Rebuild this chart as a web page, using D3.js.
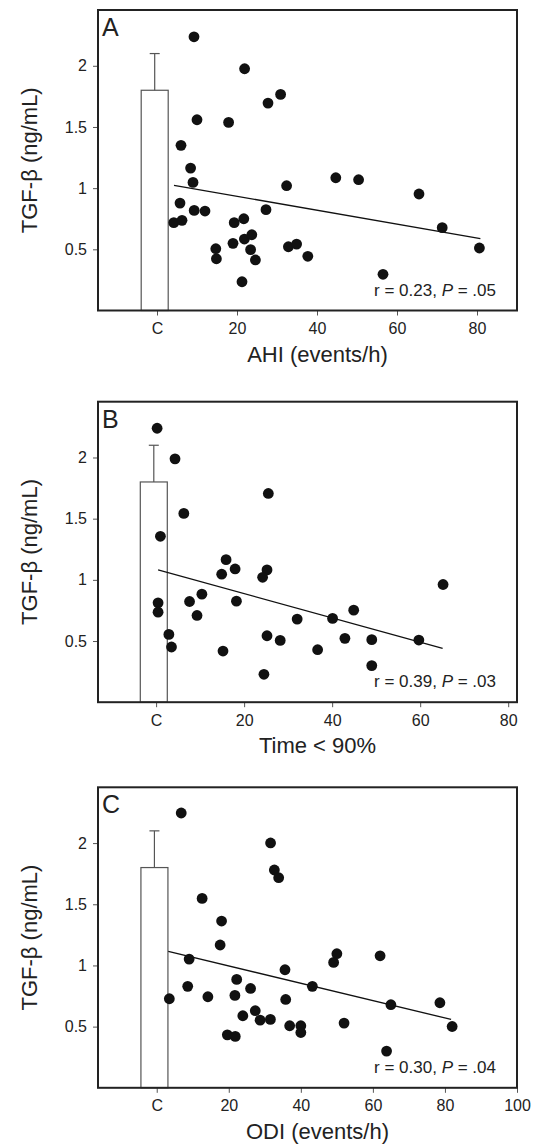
<!DOCTYPE html>
<html>
  <head>
    <script src="https://d3js.org/d3.v7.min.js"></script>
    <style>
      body { margin: 0; background: #fff; }
      text { font-family: "Liberation Sans", Arial, sans-serif; fill: #222; }
      .tick line { stroke: #555; }
      .tick text { font-size: 16px; }
      .domain { display: none; }
    </style>
  </head>
  <body>
    <script>
      // Panel data
      var panelLetters = ["A", "B", "C"];
      var xTitles = ["AHI (events/h)", "Time < 90%", "ODI (events/h)"];
      var yTitle = "TGF-β (ng/mL)";
      var yTicks = [0.5, 1, 1.5, 2];
      var xTicksA = [0, 20, 40, 60, 80];
      var xTicksB = [0, 20, 40, 60, 80];
      var xTicksC = [0, 20, 40, 60, 80, 100];
      var xDomains = [[-14.75, 90], [-13.2, 82], [-16.3, 100]];

      // control group bar: mean and mean + error
      var controlMean = [1.8, 1.8, 1.8];
      var controlErr = [2.1, 2.1, 2.1];

      var rValues = ["0.23", "0.39", "0.30"];
      var pValues = [".05", ".03", ".04"];

      var xA = [9.25, 21.9, 27.75, 30.9, 10.0, 17.9, 6.0, 8.4, 9.0, 32.4, 44.7, 50.4, 65.5, 71.3, 80.6, 56.5,
                5.75, 9.3, 12.0, 4.2, 6.25, 19.3, 21.7, 27.25, 14.7, 14.85, 19.0, 21.85, 23.7, 23.4, 24.6, 21.25,
                32.85, 34.9, 37.7];
      var yA = [2.237, 1.976, 1.695, 1.766, 1.559, 1.537, 1.350, 1.164, 1.047, 1.020, 1.085, 1.069, 0.952, 0.677, 0.511, 0.296,
                0.878, 0.818, 0.813, 0.718, 0.737, 0.718, 0.750, 0.824, 0.505, 0.423, 0.549, 0.584, 0.619, 0.497, 0.413, 0.235,
                0.521, 0.543, 0.443];

      var xB = [0.23, 4.3, 25.5, 6.3, 0.98, 15.9, 17.95, 14.9, 25.2, 24.2, 65.2, 0.45, 0.45, 7.6, 10.4, 9.3,
                18.25, 2.9, 3.5, 15.2, 24.5, 25.2, 28.2, 32.05, 36.7, 40.1, 44.9, 42.9, 49.0, 49.0, 59.7];
      var yB = [2.239, 1.989, 1.706, 1.543, 1.356, 1.165, 1.089, 1.046, 1.081, 1.021, 0.962, 0.812, 0.736, 0.823, 0.883, 0.709,
                0.826, 0.554, 0.451, 0.418, 0.228, 0.543, 0.505, 0.679, 0.429, 0.685, 0.752, 0.522, 0.511, 0.299, 0.508];

      var xC = [6.8, 31.6, 32.65, 33.85, 12.6, 18.0, 17.6, 9.0, 50.0, 49.1, 62.0, 35.6, 22.2, 8.6, 26.05, 43.2,
                3.5, 14.2, 21.7, 35.8, 65.0, 78.6, 82.0, 27.35, 23.9, 28.7, 31.55, 36.9, 40.0, 40.0, 52.0, 19.6,
                21.8, 63.8];
      var yC = [2.246, 2.001, 1.780, 1.717, 1.548, 1.363, 1.167, 1.052, 1.096, 1.025, 1.079, 0.965, 0.886, 0.829, 0.812, 0.829,
                0.728, 0.744, 0.755, 0.722, 0.679, 0.695, 0.501, 0.630, 0.589, 0.553, 0.559, 0.507, 0.507, 0.452, 0.529, 0.433,
                0.420, 0.300];

      // regression line end points [x0, y0, x1, y1]
      var fitA = [4.25, 1.023, 80.85, 0.587];
      var fitB = [0.45, 1.081, 65.1, 0.440];
      var fitC = [3.2, 1.115, 81.7, 0.559];

      var panels = [
        { xs: xA, ys: yA, fit: fitA, ticks: xTicksA },
        { xs: xB, ys: yB, fit: fitB, ticks: xTicksB },
        { xs: xC, ys: yC, fit: fitC, ticks: xTicksC }
      ];

      var W = 537, H = 1146;
      var left = 98, right = 517, plotH = 300.5;
      var tops = [10, 401.7, 787.3];

      var svg = d3.select("body").append("svg")
        .attr("width", W)
        .attr("height", H);

      panels.forEach(function(p, i) {
        var g = svg.append("g").attr("transform", "translate(" + left + "," + tops[i] + ")");
        var width = right - left;

        var x = d3.scaleLinear().domain(xDomains[i]).range([0, width]);
        var y = d3.scaleLinear().domain([0, 2.456]).range([plotH, 0]);

        // control bar with error whisker
        var bc = x(0) - 2.3, bw = 27;
        g.append("rect")
          .attr("x", bc - bw / 2)
          .attr("y", y(controlMean[i]))
          .attr("width", bw)
          .attr("height", plotH - y(controlMean[i]))
          .attr("fill", "#fff")
          .attr("stroke", "#555")
          .attr("stroke-width", 1.2);
        g.append("line")
          .attr("x1", bc).attr("x2", bc)
          .attr("y1", y(controlMean[i])).attr("y2", y(controlErr[i]))
          .attr("stroke", "#555").attr("stroke-width", 1.2);
        g.append("line")
          .attr("x1", bc - 5).attr("x2", bc + 5)
          .attr("y1", y(controlErr[i])).attr("y2", y(controlErr[i]))
          .attr("stroke", "#555").attr("stroke-width", 1.2);

        // regression line
        g.append("line")
          .attr("x1", x(p.fit[0])).attr("y1", y(p.fit[1]))
          .attr("x2", x(p.fit[2])).attr("y2", y(p.fit[3]))
          .attr("stroke", "#111").attr("stroke-width", 1.3);

        // points
        g.selectAll(".dot")
          .data(d3.range(p.xs.length))
          .enter().append("circle")
          .attr("class", "dot")
          .attr("cx", function(k) { return x(p.xs[k]); })
          .attr("cy", function(k) { return y(p.ys[k]); })
          .attr("r", 5.4)
          .attr("fill", "#111");

        // axes
        g.append("g")
          .call(d3.axisLeft(y).tickValues(yTicks).tickSize(5).tickPadding(6)
            .tickFormat(function(d) { return String(d); }));
        g.append("g")
          .attr("transform", "translate(0," + plotH + ")")
          .call(d3.axisBottom(x).tickValues(p.ticks).tickSize(5).tickPadding(7)
            .tickFormat(function(d) { return d === 0 ? "C" : String(d); }));

        // frame
        g.append("rect")
          .attr("width", width)
          .attr("height", plotH)
          .attr("fill", "none")
          .attr("stroke", "#222")
          .attr("stroke-width", 2);

        // panel letter
        g.append("text")
          .attr("x", 4)
          .attr("y", 26)
          .attr("font-size", "25px")
          .text(panelLetters[i]);

        // stats
        var st = g.append("text")
          .attr("x", 398)
          .attr("y", plotH - 15)
          .attr("text-anchor", "end")
          .attr("font-size", "17px");
        st.append("tspan").text("r = " + rValues[i] + ", ");
        st.append("tspan").attr("font-style", "italic").text("P");
        st.append("tspan").text(" = " + pValues[i]);

        // axis titles
        g.append("text")
          .attr("x", 219.5)
          .attr("y", plotH + 51)
          .attr("text-anchor", "middle")
          .attr("font-size", "22px")
          .text(xTitles[i]);
        g.append("text")
          .attr("transform", "rotate(-90)")
          .attr("x", -plotH / 2)
          .attr("y", -61)
          .attr("text-anchor", "middle")
          .attr("font-size", "22px")
          .text(yTitle);
      });
    </script>
  </body>
</html>
